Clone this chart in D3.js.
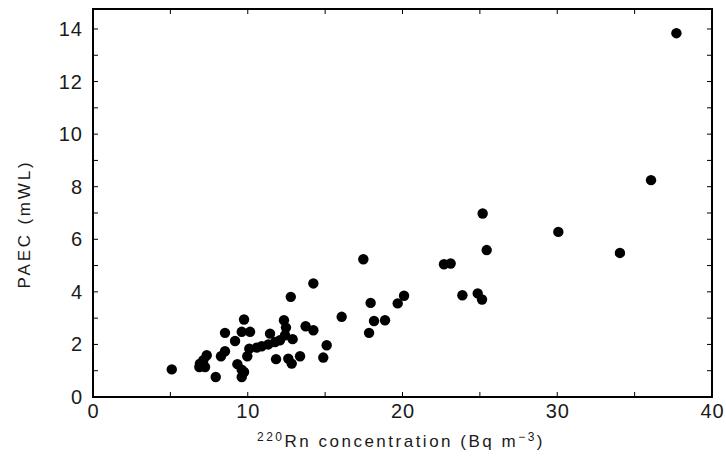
<!DOCTYPE html>
<html>
<head>
<meta charset="utf-8">
<script src="https://cdn.jsdelivr.net/npm/d3@7"></script>
<style>
  body { margin: 0; background: #fff; }
  text { font-family: "Liberation Sans", Arial, sans-serif; fill: #1a1a1a; }
</style>
</head>
<body>
<svg width="726" height="458"></svg>
<script>
// Rn-220 concentration (Bq m-3) vs PAEC (mWL)
const rnConc = [37.7, 36.06, 34.05, 30.07, 25.18, 25.44, 17.47, 22.68, 23.11, 23.87,
  24.86, 25.14, 17.94, 20.1, 19.69, 16.07, 18.16, 18.87, 17.84, 14.24,
  12.78, 12.34, 13.74, 14.24, 9.76, 10.15, 9.61, 8.53, 9.18, 12.47,
  12.41, 11.44, 12.9, 12.08, 11.76, 11.33, 10.9, 10.58, 10.1, 9.97,
  15.1, 14.88, 13.38, 12.62, 12.84, 11.83, 8.53, 8.27, 7.35, 7.13,
  6.91, 7.24, 6.87, 5.09, 7.93, 9.33, 9.61, 9.61, 9.76];
const paec = [13.84, 8.25, 5.48, 6.28, 6.98, 5.59, 5.24, 5.05, 5.08, 3.87,
  3.94, 3.71, 3.58, 3.85, 3.56, 3.05, 2.89, 2.92, 2.44, 4.32,
  3.81, 2.92, 2.69, 2.54, 2.95, 2.48, 2.48, 2.44, 2.13, 2.64,
  2.35, 2.41, 2.2, 2.16, 2.09, 2.0, 1.93, 1.88, 1.84, 1.55,
  1.97, 1.5, 1.55, 1.46, 1.27, 1.44, 1.74, 1.55, 1.59, 1.4,
  1.27, 1.14, 1.14, 1.05, 0.76, 1.25, 1.04, 0.76, 0.95];
const xTicks = [0, 10, 20, 30, 40];
const xMinor = [5, 15, 25, 35];
const yTicks = [0, 2, 4, 6, 8, 10, 12, 14];
const yMinor = [1, 3, 5, 7, 9, 11, 13];

const svg = d3.select('svg');
const plot = {l: 93, r: 712, t: 9, b: 397};

const scaleX = d3.scaleLinear().domain([0, 40]).range([plot.l, plot.r]);
const scaleY = d3.scaleLinear().domain([0, 14.76]).range([plot.b, plot.t]);

const tickLen = 5;
const ticksG = svg.append('g').attr('stroke', '#000').attr('stroke-width', 1);

// x ticks on bottom and top, pointing inward
xTicks.concat(xMinor).forEach(v => {
    ticksG.append('line')
        .attr('x1', scaleX(v)).attr('x2', scaleX(v))
        .attr('y1', plot.b).attr('y2', plot.b - tickLen);
    ticksG.append('line')
        .attr('x1', scaleX(v)).attr('x2', scaleX(v))
        .attr('y1', plot.t).attr('y2', plot.t + tickLen);
});
// y ticks on left and right, pointing inward
yTicks.concat(yMinor).forEach(v => {
    ticksG.append('line')
        .attr('y1', scaleY(v)).attr('y2', scaleY(v))
        .attr('x1', plot.l).attr('x2', plot.l + tickLen);
    ticksG.append('line')
        .attr('y1', scaleY(v)).attr('y2', scaleY(v))
        .attr('x1', plot.r).attr('x2', plot.r - tickLen);
});

// frame
svg.append('rect')
    .attr('x', plot.l).attr('y', plot.t)
    .attr('width', plot.r - plot.l).attr('height', plot.b - plot.t)
    .attr('fill', 'none')
    .attr('stroke', '#000')
    .attr('stroke-width', 2);

// tick labels
svg.append('g').selectAll('text')
    .data(xTicks)
    .join('text')
    .attr('x', d => scaleX(d) + 0.5)
    .attr('y', 418)
    .attr('text-anchor', 'middle')
    .style('font-size', '20px')
    .style('letter-spacing', '1px')
    .text(d => d);

svg.append('g').selectAll('text')
    .data(yTicks)
    .join('text')
    .attr('x', 83)
    .attr('y', d => scaleY(d) + 7)
    .attr('text-anchor', 'end')
    .style('font-size', '20px')
    .style('letter-spacing', '1px')
    .text(d => d);

// axis titles
const xTitle = svg.append('text')
    .attr('x', 401)
    .attr('y', 447)
    .attr('text-anchor', 'middle')
    .style('font-size', '17px')
    .style('letter-spacing', '2.5px');
xTitle.append('tspan').attr('dy', '-6').style('font-size', '12px').text('220');
xTitle.append('tspan').attr('dy', '6').text('Rn concentration (Bq m');
xTitle.append('tspan').attr('dy', '-6').style('font-size', '12px').text('\u22123');
xTitle.append('tspan').attr('dy', '6').text(')');

svg.append('text')
    .attr('transform', `translate(30, 224) rotate(-90)`)
    .attr('text-anchor', 'middle')
    .style('font-size', '17px')
    .style('letter-spacing', '2.8px')
    .text('PAEC (mWL)');

// points
svg.append('g').selectAll('circle')
    .data(rnConc.map((x, i) => ({x: x, y: paec[i]})))
    .join('circle')
    .attr('cx', d => scaleX(d.x))
    .attr('cy', d => scaleY(d.y))
    .attr('r', 5.2)
    .attr('fill', '#000');
</script>
</body>
</html>
